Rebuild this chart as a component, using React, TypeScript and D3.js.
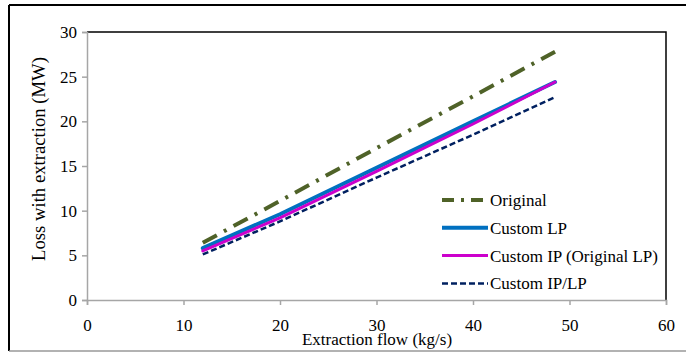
import React, { useEffect, useRef } from 'react';
import * as d3 from 'd3';

const xFlow = [12, 20, 30, 40, 48.5];
const original = [6.4, 11.1, 17.0, 22.8, 27.8];
const customLP = [5.8, 9.6, 14.8, 20.0, 24.4];
const customIP = [5.5, 9.2, 14.4, 19.7, 24.4];
const customIPLP = [5.1, 8.8, 13.7, 18.5, 22.7];

const xTicks = [0, 10, 20, 30, 40, 50, 60];
const yTicks = [0, 5, 10, 15, 20, 25, 30];

const seriesNames = ['Original', 'Custom LP', 'Custom IP (Original LP)', 'Custom IP/LP'];
const seriesValues = [original, customLP, customIP, customIPLP];

const styles = [
  { color: '#4f6228', width: 4, dash: '16,8,3,8' },
  { color: '#0070c0', width: 4, dash: null },
  { color: '#cc00cc', width: 3, dash: null },
  { color: '#002060', width: 2.5, dash: '6,3' },
];

const FONT = '"Liberation Serif", "Times New Roman", serif';

export default function App() {
  const svgRef = useRef<SVGSVGElement | null>(null);

  useEffect(() => {
    const svg = d3.select(svgRef.current);
    svg.selectAll('*').remove();

    const margin = { left: 87, right: 666, top: 32, bottom: 300 };

    const x = d3.scaleLinear().domain([0, 60]).range([margin.left, margin.right]);
    const y = d3.scaleLinear().domain([0, 30]).range([margin.bottom, margin.top]);

    // outer frame
    svg.append('line').attr('x1', 9).attr('x2', 686).attr('y1', 5).attr('y2', 5)
      .attr('stroke', '#000').attr('stroke-width', 2);
    svg.append('line').attr('x1', 9).attr('x2', 9).attr('y1', 5).attr('y2', 351)
      .attr('stroke', '#000').attr('stroke-width', 2);
    svg.append('line').attr('x1', 9).attr('x2', 686).attr('y1', 351).attr('y2', 351)
      .attr('stroke', '#999').attr('stroke-width', 1.5);

    // plot area frame (top + right black)
    svg.append('path')
      .attr('d', `M${margin.left},${margin.top}H${margin.right}V${margin.bottom}`)
      .attr('fill', 'none').attr('stroke', '#000').attr('stroke-width', 1.5);

    // axes
    const xAxis = svg.append('g').attr('transform', `translate(0,${margin.bottom})`)
      .call(d3.axisBottom(x).tickValues(xTicks).tickSize(5).tickPadding(14));
    const yAxis = svg.append('g').attr('transform', `translate(${margin.left},0)`)
      .call(d3.axisLeft(y).tickValues(yTicks).tickSize(5).tickPadding(5));

    [xAxis, yAxis].forEach(g => {
      g.attr('font-family', FONT).attr('font-size', 17);
      g.select('.domain').attr('stroke', '#a6a6a6').attr('stroke-width', 1.5);
      g.selectAll('.tick line').attr('stroke', '#a6a6a6').attr('stroke-width', 1.5);
      g.selectAll('.tick text').attr('fill', '#000');
    });

    // lines
    const line = d3.line<number>()
      .x((d, i) => x(xFlow[i]))
      .y(d => y(d));

    seriesValues.forEach((vals, k) => {
      const st = styles[k];
      svg.append('path')
        .attr('d', line(vals))
        .attr('fill', 'none')
        .attr('stroke', st.color)
        .attr('stroke-width', st.width)
        .attr('stroke-dasharray', st.dash)
        .attr('stroke-linecap', st.dash ? 'butt' : 'round');
    });

    // legend
    const legendX = 442;
    const legendY = 200;
    const rowH = 27.8;
    seriesNames.forEach((name, k) => {
      const st = styles[k];
      const cy = legendY + k * rowH;
      svg.append('line')
        .attr('x1', legendX).attr('x2', legendX + 46)
        .attr('y1', cy).attr('y2', cy)
        .attr('stroke', st.color)
        .attr('stroke-width', st.width)
        .attr('stroke-dasharray', k === 0 ? '12,7,3,7' : st.dash);
      svg.append('text')
        .attr('x', legendX + 48).attr('y', cy + 6)
        .style('font-family', FONT).style('font-size', '17px')
        .text(name);
    });

    // axis titles
    svg.append('text')
      .attr('x', 377).attr('y', 345)
      .attr('text-anchor', 'middle')
      .style('font-family', FONT).style('font-size', '17px')
      .text('Extraction flow (kg/s)');

    svg.append('text')
      .attr('transform', 'translate(45,159) rotate(-90)')
      .attr('text-anchor', 'middle')
      .style('font-family', FONT).style('font-size', '18.7px')
      .text('Loss with extraction (MW)');
  }, []);

  return (
    <div style={{ position: 'absolute', left: 0, top: 0 }}>
      <svg ref={svgRef} width="686" height="353" style={{ display: 'block', background: '#fff' }}></svg>
    </div>
  );
}
